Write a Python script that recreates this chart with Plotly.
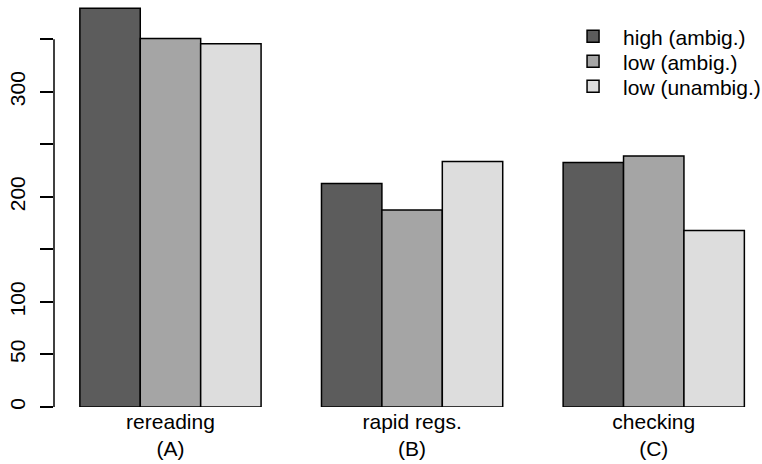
import plotly.graph_objects as go

categories = ["rereading", "rapid regs.", "checking"]
category_codes = ["(A)", "(B)", "(C)"]
series_names = ["high (ambig.)", "low (ambig.)", "low (unambig.)"]
high_ambig = [379.4, 212.8, 232.8]
low_ambig = [350.8, 187.6, 239.0]
low_unambig = [345.7, 233.7, 168.0]
y_tick_values = [0, 50, 100, 150, 200, 250, 300, 350]
y_tick_labels = ["0", "50", "100", "", "200", "", "300", ""]

colors = ["#5C5C5C", "#A5A5A5", "#DDDDDD"]
FONT = "Liberation Sans, Arial, Helvetica, sans-serif"
FS = 21

legend_ids = ["legend", "legend2", "legend3"]
legend_rows_y = [0.9211, 0.859, 0.7968]

fig = go.Figure()
for name, vals, col, lid in zip(series_names, [high_ambig, low_ambig, low_unambig], colors, legend_ids):
    fig.add_trace(go.Bar(
        x=categories, y=vals, name=name, legend=lid,
        marker=dict(color=col, line=dict(color="black", width=1.5)),
    ))

legend_common = dict(
    x=0.719, xanchor="left", yanchor="middle",
    bgcolor="rgba(0,0,0,0)", itemwidth=50,
    font=dict(size=FS, family=FONT, color="black"),
)

layout_legends = {lid: dict(y=ly, **legend_common) for lid, ly in zip(legend_ids, legend_rows_y)}

fig.update_layout(
    width=762, height=464,
    margin=dict(l=54, r=0, t=5, b=57, autoexpand=False),
    paper_bgcolor="white", plot_bgcolor="white",
    barmode="group", bargap=0.25, bargroupgap=0,
    font=dict(family=FONT, size=FS, color="black"),
    showlegend=True,
    xaxis=dict(
        type="category", range=[-0.482, 2.448], automargin=False,
        tickvals=categories,
        ticktext=[f"{c}<br>{k}" for c, k in zip(categories, category_codes)],
        showline=False, showgrid=False, zeroline=False, ticks="",
        tickfont=dict(size=FS, family=FONT, color="black"),
    ),
    yaxis=dict(
        range=[0, 382.6], tickvals=y_tick_values, ticktext=y_tick_labels,
        automargin=False,
        ticks="outside", ticklen=13, tickwidth=1.5, tickcolor="black",
        tickangle=-90, ticklabelstandoff=7,
        showline=False, showgrid=False, zeroline=False,
        tickfont=dict(size=FS, family=FONT, color="black"),
    ),
    shapes=[dict(type="line", xref="paper", x0=0, x1=0, yref="y",
                 y0=min(y_tick_values), y1=max(y_tick_values),
                 line=dict(color="black", width=1.5))],
    **layout_legends,
)

fig.write_html("out.html", config={"displayModeBar": False},
               post_script="document.body.style.margin='0';")
